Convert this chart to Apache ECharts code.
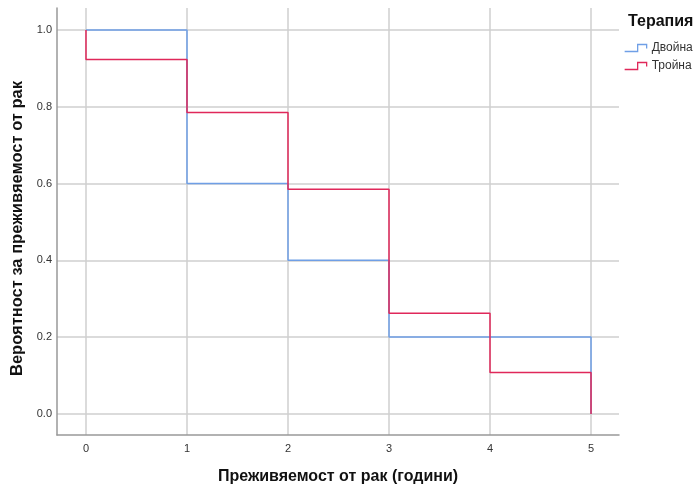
<!DOCTYPE html>
<html>
<head>
<meta charset="utf-8">
<script src="https://cdn.jsdelivr.net/npm/echarts@6/dist/echarts.min.js"></script>
<style>
  html, body { margin: 0; padding: 0; background: #fff; }
  #chart { width: 695px; height: 485px; }
</style>
</head>
<body>
<div id="chart"></div>
<script>
// Kaplan–Meier survival steps per therapy group
const dualTimes = [0, 1, 2, 3, 5];
const dualSurvival = [1.0, 0.6, 0.4, 0.2, 0.0];
const tripleTimes = [0, 0, 1, 2, 3, 4, 5];
const tripleSurvival = [1.0, 0.923, 0.785, 0.585, 0.262, 0.108, 0.0];

const xTicks = [0, 1, 2, 3, 4, 5];
const yTicks = [0, 0.2, 0.4, 0.6, 0.8, 1.0];

const seriesNames = ['Двойна', 'Тройна'];
const seriesColors = ['#6f9fe6', '#e0285a'];

const toPairs = (xs, ys) => xs.map((x, i) => [x, ys[i]]);

// small step-shaped legend glyph
const stepIcon = 'path://M0,7 L13,7 L13,0 L22,0 L22,4';
const font = 'Liberation Sans, Arial, sans-serif';

const chart = echarts.init(document.getElementById('chart'));
chart.setOption({
  animation: false,
  textStyle: { fontFamily: font },
  grid: { left: 57, right: 76, top: 8, bottom: 50, containLabel: false, outerBoundsMode: 'none' },
  legend: {
    orient: 'vertical',
    left: 624,
    top: 42,
    padding: 0,
    itemWidth: 22,
    itemHeight: 7,
    itemGap: 6,
    textStyle: { fontSize: 12, color: '#333' },
    data: seriesNames.map((n, i) => ({
      name: n,
      icon: stepIcon,
      itemStyle: { color: 'transparent', borderColor: seriesColors[i], borderWidth: 1.3 }
    }))
  },
  graphic: [{
    type: 'text',
    left: 628,
    top: 14,
    style: { text: 'Терапия', fontSize: 16, fontWeight: 'bold', fill: '#111', fontFamily: font }
  }],
  xAxis: {
    type: 'value',
    min: -0.287,
    max: 5.277,
    name: 'Преживяемост от рак (години)',
    nameLocation: 'middle',
    nameGap: 34,
    nameTextStyle: { fontSize: 16, fontWeight: 'bold', color: '#111' },
    axisLine: { show: true, onZero: false, lineStyle: { color: '#999', width: 1.5 } },
    axisTick: { show: false, customValues: xTicks },
    axisLabel: { customValues: xTicks, fontSize: 11, color: '#333', margin: 8, formatter: v => String(v) },
    splitLine: { show: true, lineStyle: { color: '#cfcfcf', width: 1.5 } }
  },
  yAxis: {
    type: 'value',
    min: -0.055,
    max: 1.057,
    name: 'Вероятност за преживяемост от рак',
    nameLocation: 'middle',
    nameGap: 29,
    nameTextStyle: { fontSize: 16.5, fontWeight: 'bold', color: '#111', padding: [0, 14, 0, 0] },
    axisLine: { show: true, onZero: false, lineStyle: { color: '#999', width: 1.5 } },
    axisTick: { show: false, customValues: yTicks },
    axisLabel: { customValues: yTicks, fontSize: 11, color: '#333', margin: 5, formatter: v => v.toFixed(1) },
    splitLine: { show: true, lineStyle: { color: '#cfcfcf', width: 1.5 } }
  },
  series: [
    {
      name: seriesNames[0],
      type: 'line',
      step: 'end',
      symbol: 'none',
      color: seriesColors[0],
      lineStyle: { width: 1.5, color: seriesColors[0] },
      data: toPairs(dualTimes, dualSurvival)
    },
    {
      name: seriesNames[1],
      type: 'line',
      step: 'end',
      symbol: 'none',
      color: seriesColors[1],
      lineStyle: { width: 1.5, color: seriesColors[1] },
      data: toPairs(tripleTimes, tripleSurvival)
    }
  ]
});
</script>
</body>
</html>
